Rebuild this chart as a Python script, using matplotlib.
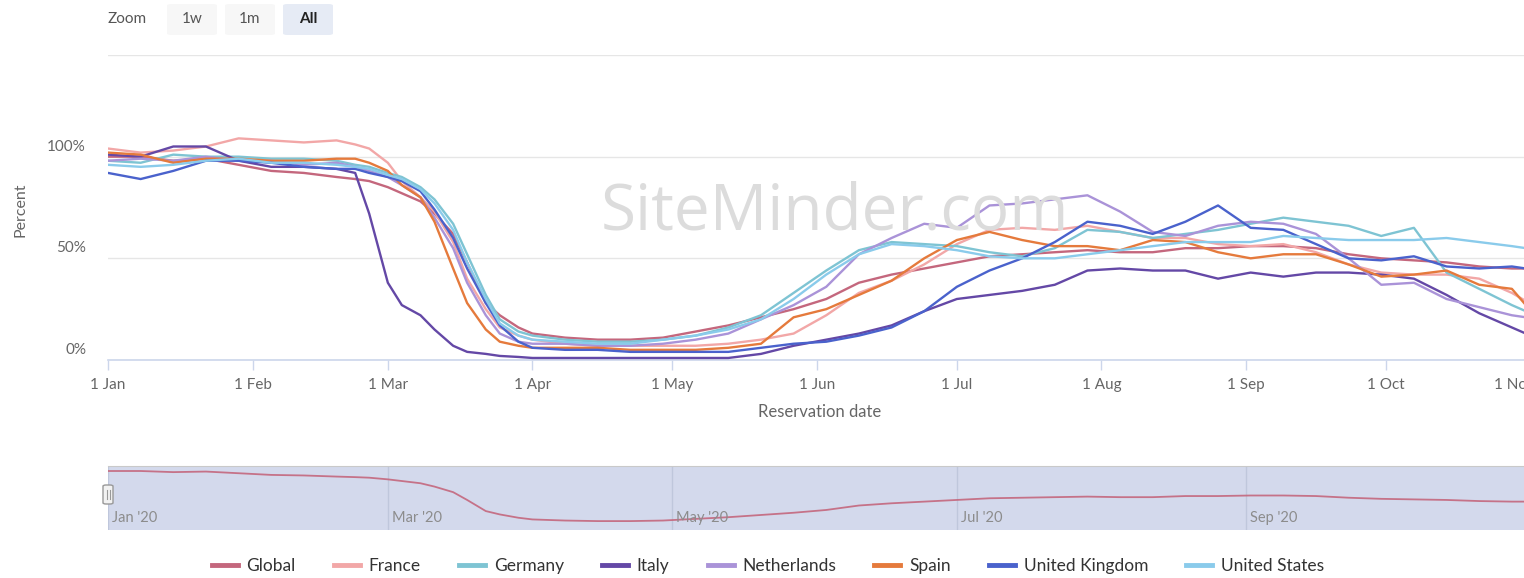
import matplotlib
matplotlib.use("Agg")
import matplotlib.pyplot as plt
import matplotlib.transforms as mtransforms
from matplotlib.patches import FancyBboxPatch
from matplotlib.lines import Line2D
import pandas as pd

# ---------------- data ----------------
dates = ["2020-01-01", "2020-01-08", "2020-01-15", "2020-01-22", "2020-01-29",
         "2020-02-05", "2020-02-12", "2020-02-19", "2020-02-23", "2020-02-26",
         "2020-03-01", "2020-03-04", "2020-03-08", "2020-03-11", "2020-03-15",
         "2020-03-18", "2020-03-22", "2020-03-25", "2020-03-29", "2020-04-01",
         "2020-04-08", "2020-04-15", "2020-04-22", "2020-04-29", "2020-05-06",
         "2020-05-13", "2020-05-20", "2020-05-27", "2020-06-03", "2020-06-10",
         "2020-06-17", "2020-06-24", "2020-07-01", "2020-07-08", "2020-07-15",
         "2020-07-22", "2020-07-29", "2020-08-05", "2020-08-12", "2020-08-19",
         "2020-08-26", "2020-09-02", "2020-09-09", "2020-09-16", "2020-09-23",
         "2020-09-30", "2020-10-07", "2020-10-14", "2020-10-21", "2020-10-28",
         "2020-10-31"]

global_vals = [100, 100, 98, 99, 96, 93, 92, 90, 89, 88,
               85, 82, 78, 72, 62, 48, 28, 22, 16, 13,
               11, 10, 10, 11, 14, 17, 21, 25, 30, 38, 42, 45, 48, 51, 52, 53, 54, 53, 53,
               55, 55, 56, 56, 55, 52, 50, 49, 48, 46, 45, 45]
france = [104, 102, 103, 105, 109, 108, 107, 108, 106, 104,
          97, 88, 80, 73, 58, 40, 25, 16, 12, 10,
          8, 7, 7, 7, 7, 8, 10, 13, 22, 33, 39, 47, 57, 64, 65, 64, 66, 63, 60,
          60, 57, 56, 57, 53, 47, 43, 42, 42, 40, 33, 29]
germany = [98, 97, 101, 100, 100, 99, 99, 98, 96, 95,
           92, 90, 85, 79, 67, 52, 32, 20, 14, 12,
           10, 9, 9, 10, 12, 16, 22, 33, 44, 54, 58, 57, 56, 53, 51, 55, 64, 63, 60,
           62, 64, 67, 70, 68, 66, 61, 65, 43, 35, 27, 24]
italy = [101, 100, 105, 105, 98, 95, 95, 94, 92, 72,
         38, 27, 22, 15, 7, 4, 3, 2, 1.5, 1,
         1, 1, 1, 1, 1, 1, 3, 7, 10, 13, 17, 24, 30, 32, 34, 37, 44, 45, 44,
         44, 40, 43, 41, 43, 43, 42, 40, 32, 23, 16, 13]
netherlands = [98, 99, 98, 100, 98, 98, 96, 97, 95, 93,
               90, 86, 80, 70, 55, 38, 22, 13, 9, 8,
               8, 7, 7, 8, 10, 13, 20, 27, 36, 52, 60, 67, 65, 76, 77, 79, 81, 73, 63,
               61, 66, 68, 67, 62, 50, 37, 38, 30, 26, 22, 21]
spain = [102, 101, 97, 99, 99, 98, 98, 99, 99, 97,
         93, 86, 80, 68, 45, 28, 15, 9, 7, 6,
         6, 6, 5, 5, 5, 6, 8, 21, 25, 32, 39, 50, 59, 63, 59, 56, 56, 54, 59,
         58, 53, 50, 52, 52, 47, 41, 42, 44, 37, 35, 27]
uk = [92, 89, 93, 98, 98, 97, 95, 94, 94, 92,
      90, 88, 83, 74, 60, 45, 28, 17, 9, 6,
      5, 5, 4, 4, 4, 4, 6, 8, 9, 12, 16, 24, 36, 44, 50, 58, 68, 66, 62,
      68, 76, 65, 64, 57, 50, 49, 51, 46, 45, 46, 45]
us = [96, 95, 96, 98, 99, 97, 97, 96, 95, 94,
      91, 89, 84, 77, 64, 48, 30, 18, 12, 10,
      9, 8, 8, 10, 12, 15, 20, 30, 42, 52, 57, 56, 54, 51, 50, 50, 52, 54, 56,
      58, 58, 58, 61, 60, 59, 59, 59, 60, 58, 56, 55]

series_names = ["Global", "France", "Germany", "Italy", "Netherlands",
                "Spain", "United Kingdom", "United States"]
series_values = [global_vals, france, germany, italy, netherlands, spain, uk, us]
series_colors = ["#c4677d", "#f2a7a7", "#7ec4d3", "#6448a6", "#aa93d8",
                 "#e57a3c", "#4a62cc", "#8acbeb"]

month_ticks = ["2020-01-01", "2020-02-01", "2020-03-01", "2020-04-01", "2020-05-01",
               "2020-06-01", "2020-07-01", "2020-08-01", "2020-09-01", "2020-10-01",
               "2020-11-01"]
month_labels = ["1 Jan", "1 Feb", "1 Mar", "1 Apr", "1 May", "1 Jun", "1 Jul",
                "1 Aug", "1 Sep", "1 Oct", "1 Nov"]
y_ticks = [0, 50, 100]
y_labels = ["0%", "50%", "100%"]
nav_ticks = ["2020-01-01", "2020-03-01", "2020-05-01", "2020-07-01", "2020-09-01"]
nav_labels = ["Jan '20", "Mar '20", "May '20", "Jul '20", "Sep '20"]

# ---------------- layout ----------------
FONT = ["Lato", "DejaVu Sans"]
plt.rcParams["font.family"] = FONT
W, H = 1524, 578
fig = plt.figure(figsize=(W / 100, H / 100), dpi=100)
fig.patch.set_facecolor("white")


def fx(px):
    return px / W


def fy(py):
    return 1 - py / H


x_dates = pd.to_datetime(dates)
t0 = pd.Timestamp("2020-01-01")
px_per_day = 4.664
left_px, right_px = 108, 1545
xmax = t0 + pd.Timedelta(days=(right_px - left_px) / px_per_day)

top_px, bot_px = 55, 360
ax = fig.add_axes([fx(left_px), fy(bot_px), (right_px - left_px) / W, (bot_px - top_px) / H])
ax.set_xlim(t0, xmax)
ax.set_ylim(0, 150)
for s in ["top", "right", "left"]:
    ax.spines[s].set_visible(False)
ax.spines["bottom"].set_color("#ccd6eb")
ax.spines["bottom"].set_linewidth(1.2)
ax.set_yticks([0, 50, 100, 150])
ax.grid(axis="y", color="#e6e6e6", linewidth=1)
ax.set_axisbelow(True)
ax.tick_params(axis="y", length=0, labelleft=False)
ax.set_xticks(pd.to_datetime(month_ticks))
ax.set_xticklabels(month_labels)
ax.tick_params(axis="x", direction="out", length=7, width=1, color="#ccd6eb",
               labelsize=11, labelcolor="#666666", pad=6)
# the last (partly hidden) label sits a little left of its tick, as in the source
last_lab = ax.get_xticklabels()[-1]
last_lab.set_transform(last_lab.get_transform() +
                       mtransforms.ScaledTranslation(-16 / 100, 0, fig.dpi_scale_trans))

for ytk, ylab in zip(y_ticks, y_labels):
    ax.annotate(ylab, xy=(0, ytk), xycoords=("axes fraction", "data"),
                xytext=(-22, 10), textcoords="offset pixels",
                ha="right", va="center", fontsize=11, color="#666666")

# watermark
fig.text(fx(835), fy(212), "SiteMinder.com", fontsize=46, color="#dcdcdc",
         ha="center", va="center", family=["Open Sans", "DejaVu Sans"], zorder=0)

for name, vals, col in zip(series_names, series_values, series_colors):
    ax.plot(x_dates, vals, color=col, lw=1.7, label=name, solid_joinstyle="round",
            zorder=3)

fig.text(fx(820), fy(412), "Reservation date", fontsize=12, color="#666666",
         ha="center", va="center")
fig.text(fx(20), fy(210), "Percent", fontsize=11.5, color="#666666",
         ha="center", va="center", rotation=90)

# ---------------- navigator ----------------
nav = fig.add_axes([fx(left_px), fy(530), (right_px - left_px) / W, (530 - 466) / H])
nav.set_facecolor("#d3d9ec")
nav.set_xlim(t0, xmax)
nav.set_ylim(-6, 109)
for s in ["right", "left", "bottom"]:
    nav.spines[s].set_visible(False)
nav.spines["top"].set_color("#c9c9c9")
nav.set_yticks([])
nav.set_xticks(pd.to_datetime(nav_ticks))
nav.tick_params(axis="x", length=0, labelbottom=False)
nav.grid(axis="x", color="#bfc7dc", linewidth=1)
nav.plot(x_dates, global_vals, color="#c4677d", lw=1.3, alpha=0.9)
for d, lab in zip(pd.to_datetime(nav_ticks), nav_labels):
    nav.annotate(lab, xy=(d, 0), xycoords=("data", "axes fraction"),
                 xytext=(4, 12), textcoords="offset pixels", ha="left", va="center",
                 fontsize=10.5, color="#8c8c8c")

# handle
fig.patches.append(FancyBboxPatch((fx(103), fy(504)), fx(10), (504 - 485) / H,
                                  boxstyle="round,pad=0,rounding_size=0.002",
                                  transform=fig.transFigure, fc="#f2f2f2",
                                  ec="#999999", lw=1, zorder=5))
for xx in (106.5, 109.5):
    fig.lines.append(Line2D([fx(xx), fx(xx)], [fy(499), fy(490)],
                            transform=fig.transFigure, color="#999999", lw=0.8, zorder=6))

# ---------------- range selector ----------------
fig.text(fx(108), fy(19), "Zoom", fontsize=11, color="#555555", ha="left", va="center")
buttons = [("1w", 167, "#f7f7f7", "#555555", "normal"),
           ("1m", 225, "#f7f7f7", "#555555", "normal"),
           ("All", 283, "#e6ebf5", "#222222", "bold")]
for txt, bx, fc, tc, fw in buttons:
    fig.patches.append(FancyBboxPatch((fx(bx), fy(35)), fx(50), (35 - 4) / H,
                                      boxstyle="round,pad=0,rounding_size=0.003",
                                      transform=fig.transFigure, fc=fc, ec="none"))
    fig.text(fx(bx + 25), fy(19), txt, fontsize=11, color=tc, ha="center",
             va="center", fontweight=fw)

# ---------------- legend ----------------
handles = [Line2D([0], [0], color=c, lw=3.5) for c in series_colors]
fig.legend(handles, series_names, loc="center", bbox_to_anchor=(fx(768), fy(566)),
           ncol=8, frameon=False, fontsize=12.5, handlelength=1.5,
           handletextpad=0.5, columnspacing=2.2, labelcolor="#333333")

fig.savefig("out.png", dpi=100, facecolor="white")
